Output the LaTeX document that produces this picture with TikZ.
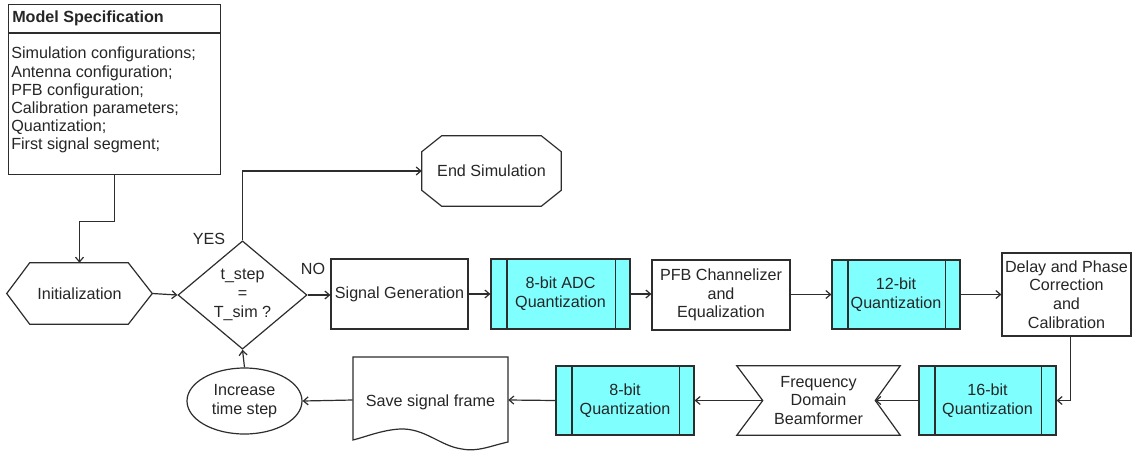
\documentclass[tikz,border=0pt]{standalone}
\usepackage{fontspec}
\setmainfont{Liberation Sans}
\usetikzlibrary{shapes.geometric,calc,arrows.meta}
\definecolor{procfill}{RGB}{128,255,255}
\definecolor{ln}{RGB}{45,45,45}
\begin{document}
\begin{tikzpicture}[x=0.75pt,y=-0.75pt,
  every node/.style={font=\fontsize{12.1}{14}\selectfont, text=black!85, align=center, inner sep=0pt},
  plainbox/.style={draw=ln, line width=0.9pt, fill=white},
  procbox/.style={draw=ln, line width=0.9pt, fill=procfill},
  outline/.style={draw=ln, line width=0.9pt, fill=white},
  arr/.style={draw=ln, line width=0.9pt, -{Straight Barb[length=3.5pt,width=6pt]}},
  lbl/.style={font=\fontsize{12.1}{14}\selectfont}]
\fill[white] (0,0) rectangle (1132,451);
\useasboundingbox (0,0) rectangle (1132,451);

% Model specification
\node[plainbox, anchor=north west, minimum width=159pt, minimum height=127.5pt] (spec) at (8,4) {};
\draw[ln, line width=0.9pt] (8,33) -- (220,33);
\node[anchor=west, font=\fontsize{12.1}{14}\selectfont\bfseries] (spectitle) at (12,18.5) {Model Specification};
\node[anchor=north west, align=left, font=\fontsize{12.1}{13.65}\selectfont] (specbody) at (11,47) {Simulation configurations;\\Antenna configuration;\\PFB configuration;\\Calibration parameters;\\Quantization;\\First signal segment;};

% Initialization (hexagon)
\node[minimum width=108.75pt, minimum height=45.75pt] (init) at (79.5,293.5) {};
\draw[outline] (init.west) -- ($(init.north west)+(23,0)$) -- ($(init.north east)+(-24,0)$) -- (init.east) -- ($(init.south east)+(-24,0)$) -- ($(init.south west)+(23,0)$) -- cycle;
\node at (init.center) {Initialization};

% Decision
\node[diamond, outline, minimum width=96.75pt, minimum height=72pt] (dec) at (242.5,295) {t\_step\\=\\T\_sim ?};

% End simulation (octagon)
\node[minimum width=104.25pt, minimum height=52.5pt] (end) at (491.5,171) {};
\draw[outline] ($(end.north west)+(20,0)$) -- ($(end.north east)+(-20,0)$) -- ($(end.north east)+(0,16)$) -- ($(end.south east)+(0,-16)$) -- ($(end.south east)+(-20,0)$) -- ($(end.south west)+(20,0)$) -- ($(end.south west)+(0,-16)$) -- ($(end.north west)+(0,16)$) -- cycle;
\node at (end.center) {End Simulation};

% Top row
\node[plainbox, minimum width=102.75pt, minimum height=52.5pt] (sig) at (399.5,294) {Signal Generation};
\node[procbox, minimum width=104.25pt, minimum height=52.5pt] (adc) at (560.5,294) {8-bit ADC\\Quantization};
\node[plainbox, minimum width=103.5pt, minimum height=52.5pt] (pfb) at (721,295) {PFB Channelizer\\and\\Equalization};
\node[procbox, minimum width=96pt, minimum height=51.75pt] (q12) at (896,294.5) {12-bit\\Quantization};
\node[plainbox, minimum width=96.75pt, minimum height=62.25pt] (delay) at (1066.5,294.5) {Delay and Phase\\Correction\\and\\Calibration};

% Bottom row
\node[procbox, minimum width=102.75pt, minimum height=51.75pt] (q16) at (987.5,400.5) {16-bit\\Quantization};
\node[minimum width=122.25pt, minimum height=51.75pt] (bf) at (818.5,400.5) {};
\draw[outline] (bf.north west) -- (bf.north east) -- ($(bf.east)+(-25,0)$) -- (bf.south east) -- (bf.south west) -- ($(bf.west)+(26,0)$) -- cycle;
\node at (bf.center) {Frequency\\Domain\\Beamformer};
\node[procbox, minimum width=103.5pt, minimum height=51.75pt] (q8) at (625,400.5) {8-bit\\Quantization};

% Save signal frame (document)
\node[minimum width=116.25pt, minimum height=64.5pt] (save) at (430.5,400) {};
\draw[outline] (353,357) -- (508,357) -- (508,442) .. controls (490,446) and (478,452) .. (462,449) .. controls (440,446) and (425,428) .. (400,429) .. controls (382,430) and (365,437) .. (353,440) -- cycle;
\node at ([yshift=-2pt]save.center) {Save signal frame};

% Increase time step
\node[ellipse, outline, minimum width=86.25pt, minimum height=49.5pt] (inc) at (244.5,401) {Increase\\time step};

% Inner lines of predefined process boxes
\foreach \n in {adc,q12,q16,q8}{
  \draw[ln, line width=0.9pt] ([xshift=12.5pt]\n.north west) -- ([xshift=12.5pt]\n.south west);
  \draw[ln, line width=0.9pt] ([xshift=-11.5pt]\n.north east) -- ([xshift=-11.5pt]\n.south east);
}

% Coordinates for the beamformer notches
\coordinate (bfR) at ($(bf.east)+(-25,0)$);
\coordinate (bfL) at ($(bf.west)+(26,0)$);

% Connectors
\draw[arr] (spec.south) -- ++(0,46) -| (init.north);
\draw[arr] (init.east) -- (dec.west);
\draw[arr] (dec.north) |- (end.west);
\draw[arr] (dec.east) -- (dec.east -| sig.west);
\draw[arr] (sig.east) -- (adc.west);
\draw[arr] (adc.east) -- (adc.east -| pfb.west);
\draw[arr] (pfb.east |- q12.west) -- (q12.west);
\draw[arr] (q12.east) -- (q12.east -| delay.west);
\draw[arr] ([xshift=3pt]delay.south) |- (q16.east);
\draw[arr] (q16.west) -- (bfR);
\draw[arr] (bfL) -- (q8.east);
\draw[arr] (q8.west) -- (save.east);
\draw[arr] (save.west) -- (inc.east);
\draw[arr] (inc.north) -- (dec.south);

% Labels
\node[lbl] (yes) at (209,239) {YES};
\node[lbl] (no) at (313,269) {NO};
\end{tikzpicture}
\end{document}
